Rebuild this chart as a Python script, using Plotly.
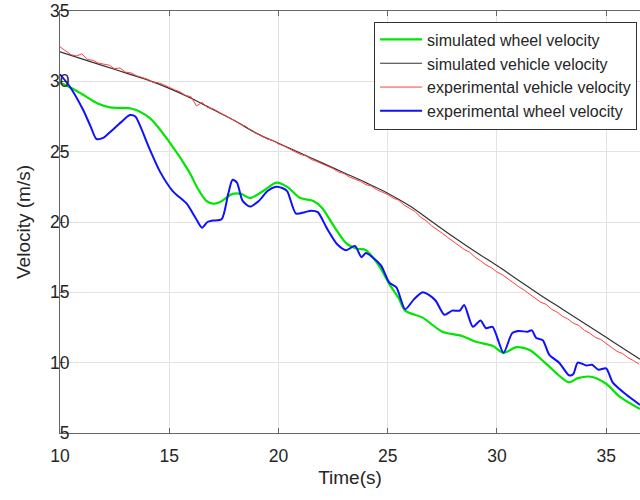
import plotly.graph_objects as go

# ---- data ----
t_green = [10.0, 10.5, 11.0, 11.7, 12.3, 13.3, 14.1, 15.0, 15.9, 16.3, 16.7, 17.0, 17.3, 17.9,
           18.3, 18.7, 19.3, 19.9, 20.4, 21.0, 21.6, 22.0, 22.5, 23.1, 23.6, 24.0, 24.6, 25.07,
           25.5, 25.8, 26.6, 27.5, 28.4, 29.0, 29.8, 30.3, 30.9, 31.5, 32.2, 33.3, 33.7, 34.3,
           35.0, 35.6, 36.55]
v_green = [29.9, 29.55, 29.1, 28.45, 28.15, 28.05, 27.4, 25.7, 23.6, 22.4, 21.5, 21.3, 21.4, 22.0,
           22.0, 21.7, 22.2, 22.8, 22.5, 21.7, 21.5, 21.0, 19.8, 18.5, 18.1, 18.0, 16.9, 15.6,
           14.6, 13.7, 13.2, 12.2, 11.9, 11.5, 11.2, 10.7, 11.1, 10.9, 10.0, 8.6, 8.9, 9.0,
           8.5, 7.6, 6.7]

t_black = [10, 11, 12, 13, 14, 15, 16, 17, 18, 19, 20, 21, 22, 23, 24, 25, 26, 27, 28, 29, 30,
           31, 32, 33, 34, 35, 36, 36.55]
v_black = [32.1, 31.6, 31.1, 30.6, 30.1, 29.5, 28.8, 28.0, 27.2, 26.3, 25.6, 24.9, 24.2, 23.5,
           22.8, 22.05, 21.15, 20.05, 18.95, 17.9, 16.9, 15.85, 14.8, 13.8, 12.8, 11.8, 10.8, 10.25]

t_red = [10.0 + 0.25 * i for i in range(107)]
v_red = [32.45, 32.15, 31.9, 31.8, 31.95, 31.55, 31.5, 31.3, 31.25, 31.15, 30.9, 30.95,
         30.65, 30.6, 30.4, 30.3, 30.15, 29.95, 29.9, 29.75, 29.55, 29.4, 29.25, 29.0,
         28.9, 28.25, 28.5, 28.15, 28.05, 27.85, 27.6, 27.45, 27.2, 26.95, 26.8, 26.5,
         26.3, 26.15, 25.9, 25.8, 25.55, 25.4, 25.2, 25.05, 24.8, 24.7, 24.45, 24.3,
         24.15, 23.95, 23.8, 23.55, 23.45, 23.2, 23.05, 22.9, 22.65, 22.55, 22.3, 22.15,
         21.95, 21.7, 21.55, 21.2, 20.95, 20.75, 20.35, 20.1, 19.75, 19.5, 19.2, 18.9,
         18.6, 18.35, 18.05, 17.85, 17.5, 17.25, 16.95, 16.75, 16.45, 16.25, 15.95, 15.7,
         15.4, 15.15, 14.85, 14.6, 14.3, 14.15, 13.8, 13.6, 13.3, 13.1, 12.8, 12.65,
         12.3, 12.1, 11.8, 11.65, 11.35, 11.1, 10.8, 10.65, 10.35, 10.15, 9.9]

t_blue = [10.0, 10.46, 11.05, 11.4, 11.67, 12.0, 12.3, 12.8, 13.2, 13.45, 13.65, 14.1, 14.57,
          15.16, 15.8, 16.2, 16.5, 16.75, 17.0, 17.4, 17.7, 17.9, 18.1, 18.36, 18.7, 19.1,
          19.5, 19.9, 20.2, 20.4, 20.8, 21.2, 21.5, 21.8, 22.2, 22.7, 23.1, 23.5, 23.8, 24.0,
          24.3, 24.7, 25.07, 25.4, 25.8, 26.2, 26.6, 26.9, 27.2, 27.6, 27.95, 28.3, 28.5,
          28.9, 29.25, 29.5, 29.8, 30.3, 30.7, 31.0, 31.4, 31.6, 31.8, 32.1, 32.4, 32.85,
          33.3, 33.5, 33.7, 34.1, 34.35, 34.65, 35.0, 35.3, 35.9, 36.55]
v_blue = [30.5, 29.6, 28.0, 26.8, 25.9, 26.0, 26.4, 27.1, 27.6, 27.5, 26.9, 25.2, 23.6,
          22.2, 21.3, 20.3, 19.6, 20.0, 20.1, 20.2, 22.0, 23.0, 22.8, 21.5, 21.1, 21.5,
          22.2, 22.5, 22.4, 22.2, 20.6, 20.7, 20.8, 20.7, 19.6, 18.4, 18.0, 18.3, 17.5, 17.8,
          17.5, 16.9, 15.7, 15.35, 13.8, 14.5, 15.0, 14.8, 14.4, 13.4, 13.7, 13.7, 14.1,
          12.55, 13.0, 12.45, 12.55, 10.7, 12.1, 12.25, 12.2, 12.3, 11.75, 11.6, 10.55, 10.0,
          9.1, 9.2, 10.0, 9.8, 9.85, 9.5, 9.6, 8.6, 7.75, 7.0]

x_ticks = [10, 15, 20, 25, 30, 35]
y_ticks = [5, 10, 15, 20, 25, 30, 35]

FONT = "Liberation Sans, Arial, sans-serif"

fig = go.Figure()
fig.add_trace(go.Scatter(x=t_green, y=v_green, mode="lines", name="simulated wheel velocity",
                         line=dict(color="#00e600", width=2.2, shape="spline", smoothing=0.8)))
fig.add_trace(go.Scatter(x=t_black, y=v_black, mode="lines", name="simulated vehicle velocity",
                         line=dict(color="#333333", width=1.2, shape="spline", smoothing=1.0)))
fig.add_trace(go.Scatter(x=t_red, y=v_red, mode="lines", name="experimental vehicle velocity",
                         line=dict(color="#ff4040", width=1)))
fig.add_trace(go.Scatter(x=t_blue, y=v_blue, mode="lines", name="experimental wheel velocity",
                         line=dict(color="#1010ff", width=2, shape="spline", smoothing=0.7)))

axis_common = dict(
    showline=True, linecolor="#666666", linewidth=1,
    ticks="inside", ticklen=5, tickcolor="#666666", tickwidth=1,
    showgrid=True, gridcolor="#e3e3e3", gridwidth=1, zeroline=False,
    tickfont=dict(family=FONT, size=17.5, color="#262626"),
    ticklabeloverflow="allow",
)

fig.update_xaxes(range=[10, 36.55], tickvals=x_ticks, ticklabelstandoff=7, mirror="ticks",
                 title=dict(text="Time(s)", font=dict(family=FONT, size=19, color="#262626"), standoff=5),
                 **axis_common)
fig.update_yaxes(range=[5, 35], tickvals=y_ticks, ticklabelstandoff=-14, mirror=False,
                 title=dict(text="Velocity (m/s)", font=dict(family=FONT, size=19, color="#262626"), standoff=14),
                 **axis_common)

fig.update_layout(
    width=640, height=500,
    margin=dict(l=60, r=0, t=11, b=67, autoexpand=False),
    paper_bgcolor="white", plot_bgcolor="white",
    font=dict(family=FONT, color="#262626"),
    legend=dict(x=0.995, y=0.975, xanchor="right", yanchor="top",
                bgcolor="white", bordercolor="#333333", borderwidth=1,
                font=dict(family=FONT, size=16, color="#262626"),
                tracegroupgap=0, itemwidth=42),
    showlegend=True,
)

fig.write_html("out.html")
